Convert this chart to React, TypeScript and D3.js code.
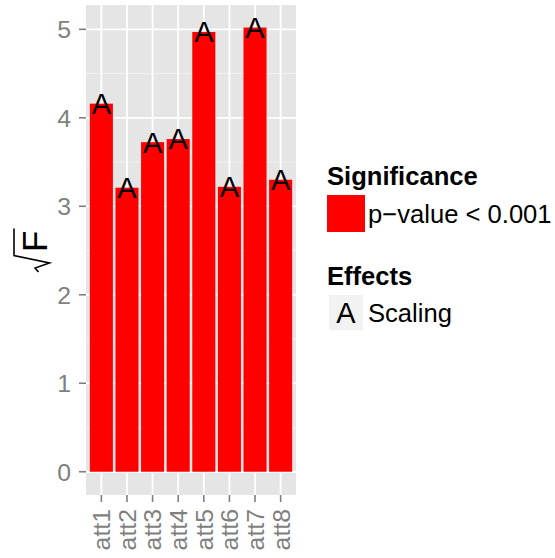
import React from "react";
import * as d3 from "d3";

const categories = ["att1", "att2", "att3", "att4", "att5", "att6", "att7", "att8"];
const values = [4.16, 3.21, 3.725, 3.76, 4.97, 3.22, 5.02, 3.3];
const effectLabels = ["A", "A", "A", "A", "A", "A", "A", "A"];
const yTicks = [0, 1, 2, 3, 4, 5];
const yMinor = [0.5, 1.5, 2.5, 3.5, 4.5];
const legendSigTitle = "Significance";
const legendSigLabel = "p\u2212value < 0.001";
const legendEffTitle = "Effects";
const legendEffLabel = "Scaling";

const W = 555;
const H = 558;
const panel = { left: 86, right: 296, top: 5, bottom: 495 };
const FONT = "'Liberation Sans', Arial, Helvetica, sans-serif";
const GREY = "#7f7f7f";

export default function App() {
  const x = d3
    .scalePoint<string>()
    .domain(categories)
    .range([panel.left, panel.right])
    .padding(0.6);
  const step = x.step();
  const barW = step * 0.9;
  const y = d3.scaleLinear().domain([-0.263, 5.275]).range([panel.bottom, panel.top]);

  const tickFs = 24.8;
  const legFs = 25.6;
  const textFs = 29;

  return (
    <svg
      width={W}
      height={H}
      style={{ position: "absolute", left: 0, top: 0, background: "#fff" }}
      fontFamily={FONT}
    >
      <rect x={0} y={0} width={W} height={H} fill="#fff" />
      {/* panel */}
      <rect
        x={panel.left}
        y={panel.top}
        width={panel.right - panel.left}
        height={panel.bottom - panel.top}
        fill="#e5e5e5"
      />
      {yMinor.map((v) => (
        <line
          key={"mn" + v}
          x1={panel.left}
          x2={panel.right}
          y1={y(v)}
          y2={y(v)}
          stroke="#f2f2f2"
          strokeWidth={1}
        />
      ))}
      {yTicks.map((v) => (
        <line
          key={"mj" + v}
          x1={panel.left}
          x2={panel.right}
          y1={y(v)}
          y2={y(v)}
          stroke="#ffffff"
          strokeWidth={1.8}
        />
      ))}
      {categories.map((c) => (
        <line
          key={"vg" + c}
          x1={x(c)}
          x2={x(c)}
          y1={panel.top}
          y2={panel.bottom}
          stroke="#ffffff"
          strokeWidth={1.8}
        />
      ))}
      {/* bars */}
      {categories.map((c, i) => (
        <rect
          key={"b" + c}
          x={(x(c) as number) - barW / 2}
          y={y(values[i])}
          width={barW}
          height={y(0) - y(values[i])}
          fill="#ff0000"
        />
      ))}
      {/* text labels */}
      {categories.map((c, i) => (
        <text
          key={"t" + c}
          x={x(c)}
          y={y(values[i]) + 0.358 * textFs}
          fontSize={textFs}
          textAnchor="middle"
          fill="#000"
        >
          {effectLabels[i]}
        </text>
      ))}
      {/* y axis ticks */}
      {yTicks.map((v) => (
        <g key={"yt" + v}>
          <line
            x1={panel.left - 7}
            x2={panel.left}
            y1={y(v)}
            y2={y(v)}
            stroke={GREY}
            strokeWidth={1.6}
          />
          <text
            x={panel.left - 15}
            y={y(v) + 0.358 * tickFs}
            fontSize={tickFs}
            textAnchor="end"
            fill={GREY}
          >
            {v}
          </text>
        </g>
      ))}
      {/* x axis ticks */}
      {categories.map((c) => (
        <g key={"xt" + c}>
          <line
            x1={x(c)}
            x2={x(c)}
            y1={panel.bottom}
            y2={panel.bottom + 7}
            stroke={GREY}
            strokeWidth={1.6}
          />
          <text
            transform={`translate(${(x(c) as number) + 0.358 * tickFs},${panel.bottom + 14}) rotate(-90)`}
            fontSize={tickFs}
            textAnchor="end"
            fill={GREY}
          >
            {c}
          </text>
        </g>
      ))}
      {/* y axis title: sqrt(F) */}
      <g transform={`translate(47,${(panel.top + panel.bottom) / 2}) rotate(-90)`}>
        <path
          d="M 21.5 -33 L -5.5 -33 L -13 2.5 L -18 -12 L -22 -8.5"
          fill="none"
          stroke="#000"
          strokeWidth={1.6}
          strokeLinejoin="miter"
        />
        <text x={-2} y={0} fontSize={35} fill="#000">
          F
        </text>
      </g>
      {/* legend: Significance */}
      <text x={327} y={185} fontSize={legFs} fontWeight="bold" fill="#000">
        {legendSigTitle}
      </text>
      <rect x={327} y={195} width={38} height={37} fill="#ff0000" />
      <text x={368} y={222.5} fontSize={legFs} fill="#000">
        {legendSigLabel}
      </text>
      {/* legend: Effects */}
      <text x={327} y={284.5} fontSize={legFs} fontWeight="bold" fill="#000">
        {legendEffTitle}
      </text>
      <rect x={329} y={295} width={34} height={35} fill="#f2f2f2" />
      <text x={346} y={312.5 + 0.358 * textFs} fontSize={textFs} textAnchor="middle" fill="#000">
        {effectLabels[0]}
      </text>
      <text x={368} y={321.7} fontSize={legFs} fill="#000">
        {legendEffLabel}
      </text>
    </svg>
  );
}
